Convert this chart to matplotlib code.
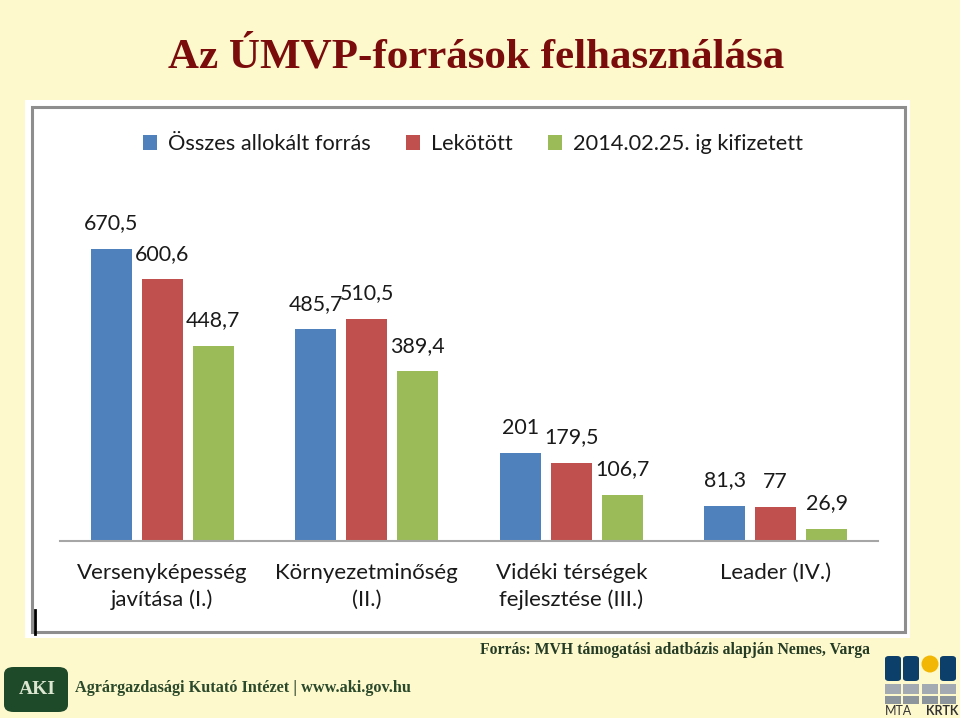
import matplotlib.pyplot as plt
import numpy as np
from matplotlib.lines import Line2D
from matplotlib.patches import Rectangle, FancyBboxPatch, Ellipse

categories = ['Versenyképesség\njavítása (I.)', 'Környezetminőség\n(II.)',
              'Vidéki térségek\nfejlesztése (III.)', 'Leader (IV.)']
series_names = ['Összes allokált forrás', 'Lekötött', '2014.02.25. ig kifizetett']
osszes = [670.5, 485.7, 201, 81.3]
lekotott = [600.6, 510.5, 179.5, 77]
kifizetett = [448.7, 389.4, 106.7, 26.9]

colors = ['#4F81BD', '#C0504D', '#9BBB59']
W, H = 960, 718


def fx(px):
    return px / W


def fy(py):
    return 1 - py / H


def fmt(v):
    s = ('%g' % v)
    return s.replace('.', ',')


fig = plt.figure(figsize=(9.6, 7.18), dpi=100)
fig.patch.set_facecolor('#FEF9CD')

# white chart panel with grey frame
fig.patches.append(Rectangle((fx(25), fy(638)), fx(910) - fx(25), fy(100) - fy(638),
                             transform=fig.transFigure, facecolor='white', edgecolor='none', zorder=-2))
fig.patches.append(Rectangle((fx(32), fy(632)), fx(905) - fx(32), fy(107) - fy(632),
                             transform=fig.transFigure, facecolor='white', edgecolor='#8E8E8E',
                             linewidth=2.2, zorder=-1))
fig.lines.append(Line2D([fx(35), fx(35)], [fy(610), fy(634)], transform=fig.transFigure,
                        color='black', linewidth=2))

fig.text(fx(476), fy(58), 'Az ÚMVP-források felhasználása', ha='center', va='center',
         fontsize=31, fontweight='bold', family='Liberation Serif', color='#7B0C0C')

ax = fig.add_axes([fx(60), fy(541), fx(878) - fx(60), fy(200) - fy(541)])
ax.set_facecolor('none')
ax.set_zorder(2)
x = np.arange(len(categories))
width = 0.2
step = 0.25
handles = []
for i, (vals, name) in enumerate(zip([osszes, lekotott, kifizetett], series_names)):
    pos = x + (i - 1) * step
    b = ax.bar(pos, vals, width, color=colors[i], label=name, zorder=2)
    handles.append(b)
    for p, v in zip(pos, vals):
        ax.annotate(fmt(v), (p, v), xytext=(0, 18.5), textcoords='offset points',
                    ha='center', va='center', fontsize=15.4, family='Lato', color='#1A1A1A')

ax.set_xlim(-0.5, 3.5)
ax.set_ylim(0, 783)
ax.set_yticks([])
ax.set_xticks(x)
ax.set_xticklabels(categories, fontsize=16, family='Lato', color='#1A1A1A', linespacing=1.4)
ax.tick_params(axis='x', length=0, pad=16)
for side in ['top', 'right', 'left']:
    ax.spines[side].set_visible(False)
ax.spines['bottom'].set_color('#A6A6A6')
ax.spines['bottom'].set_linewidth(1.5)

leg = fig.legend(handles=handles, labels=series_names, loc='center', bbox_to_anchor=(fx(473), fy(144)),
                 ncol=3, frameon=False, handlelength=0.65, handleheight=0.65, handletextpad=0.5,
                 columnspacing=1.6, prop={'family': 'Lato', 'size': 15.7})
for t in leg.get_texts():
    t.set_color('#1A1A1A')

fig.text(fx(870), fy(650), 'Forrás: MVH támogatási adatbázis alapján Nemes, Varga', ha='right', va='center',
         fontsize=11.3, fontweight='bold', family='Liberation Serif', color='#243B24')

# footer: AKI logo and text
fig.patches.append(FancyBboxPatch((fx(4), fy(712)), fx(68) - fx(4), fy(667) - fy(712),
                                  boxstyle='round,pad=0,rounding_size=0.01', transform=fig.transFigure,
                                  facecolor='#1E4A2A', edgecolor='none'))
fig.text(fx(37), fy(690), 'AKI', ha='center', va='center', fontsize=14, fontweight='bold',
         family='Liberation Serif', color='#DCE6D0')
fig.text(fx(75), fy(688), 'Agrárgazdasági Kutató Intézet | www.aki.gov.hu', ha='left', va='center',
         fontsize=11.7, fontweight='bold', family='Liberation Serif', color='#2B4A2B')

# footer: MTA KRTK logo
for x0 in [885, 903, 940]:
    fig.patches.append(FancyBboxPatch((fx(x0), fy(681)), fx(16), fy(656) - fy(681),
                                      boxstyle='round,pad=0,rounding_size=0.004',
                                      transform=fig.transFigure, facecolor='#0D3F6B', edgecolor='none'))
fig.patches.append(Ellipse((fx(930), fy(664)), fx(17), 17 / H, transform=fig.transFigure,
                           facecolor='#F2B705', edgecolor='none'))
for x0 in [885, 903, 922, 940]:
    fig.patches.append(Rectangle((fx(x0), fy(694)), fx(16), fy(684) - fy(694),
                                 transform=fig.transFigure, facecolor='#A3AAB2', edgecolor='none'))
    fig.patches.append(Rectangle((fx(x0), fy(704)), fx(16), fy(696) - fy(704),
                                 transform=fig.transFigure, facecolor='#8C949C', edgecolor='none'))
fig.text(fx(885), fy(711), 'MTA', ha='left', va='center', fontsize=9, family='Lato', color='#333333')
fig.text(fx(958), fy(711), 'KRTK', ha='right', va='center', fontsize=9, fontweight='bold',
         family='Lato', color='#333333')

plt.savefig('out.png', dpi=100, facecolor=fig.get_facecolor())
plt.close()
